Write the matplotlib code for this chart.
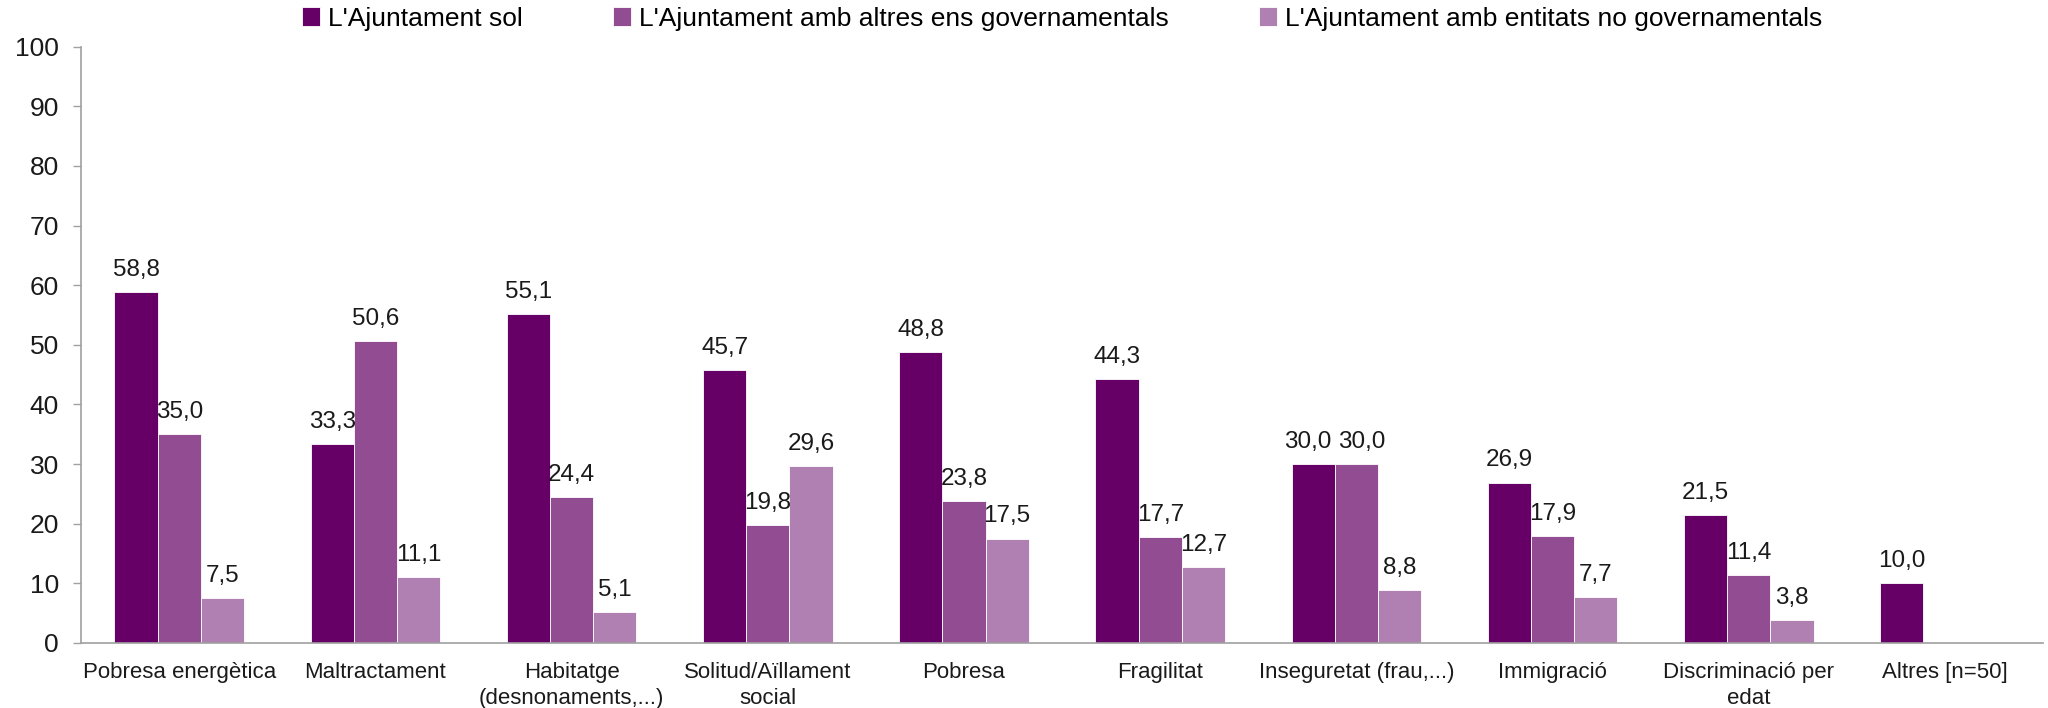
"""Grouped bar chart: qui actua davant cada problemàtica social."""

import matplotlib

matplotlib.use("Agg")
import matplotlib.pyplot as plt
import numpy as np

CATEGORIES = [
    "Pobresa energètica",
    "Maltractament",
    "Habitatge\n(desnonaments,...)",
    "Solitud/Aïllament\nsocial",
    "Pobresa",
    "Fragilitat",
    "Inseguretat (frau,...)",
    "Immigració",
    "Discriminació per\nedat",
    "Altres [n=50]",
]
SERIES_NAMES = [
    "L'Ajuntament sol",
    "L'Ajuntament amb altres ens governamentals",
    "L'Ajuntament amb entitats no governamentals",
]
SOL = [58.8, 33.3, 55.1, 45.7, 48.8, 44.3, 30.0, 26.9, 21.5, 10.0]
ALTRES_ENS = [35.0, 50.6, 24.4, 19.8, 23.8, 17.7, 30.0, 17.9, 11.4, None]
ENTITATS = [7.5, 11.1, 5.1, 29.6, 17.5, 12.7, 8.8, 7.7, 3.8, None]
COLORS = ["#660066", "#924d92", "#b080b2"]

plt.rcParams["font.family"] = ["Liberation Sans", "DejaVu Sans"]

fig = plt.figure(figsize=(20.48, 7.08), dpi=100)
ax = fig.add_axes([0.0396, 0.092, 0.958, 0.842])

x = np.arange(len(CATEGORIES))
width = 0.22
offsets = [-width, 0, width]
all_vals = [SOL, ALTRES_ENS, ENTITATS]
for k, (name, vals, color, off) in enumerate(zip(SERIES_NAMES, all_vals, COLORS, offsets)):
    idx = [i for i, v in enumerate(vals) if v is not None]
    heights = [vals[i] for i in idx]
    bars = ax.bar(x[idx] + off, heights, width, color=color, label=name,
                  edgecolor="white", linewidth=0.6)
    for i, b, v in zip(idx, bars, heights):
        # nudge labels apart when neighbouring bars have (almost) equal height
        dx = 0
        if k > 0 and all_vals[k - 1][i] is not None and abs(all_vals[k - 1][i] - v) < 3:
            dx = 4
        if k < 2 and all_vals[k + 1][i] is not None and abs(all_vals[k + 1][i] - v) < 3:
            dx = -4
        ax.annotate(f"{v:.1f}".replace(".", ","),
                    (b.get_x() + b.get_width() / 2, v),
                    xytext=(dx, 8), textcoords="offset points",
                    ha="center", va="bottom", fontsize=17.5, color="#1a1a1a")

ax.set_xlim(-0.5, len(CATEGORIES) - 0.5)
ax.set_ylim(0, 100)
ax.set_yticks(range(0, 101, 10))
ax.set_xticks(x)
ax.set_xticklabels(CATEGORIES, fontsize=16, color="#1a1a1a", linespacing=1.3)
ax.tick_params(axis="x", length=0, pad=14)
ax.tick_params(axis="y", labelsize=19, colors="#1a1a1a", length=6,
               width=1, color="#a0a0a0", pad=10)
for s in ["top", "right"]:
    ax.spines[s].set_visible(False)
for s in ["left", "bottom"]:
    ax.spines[s].set_color("#a0a0a0")
    ax.spines[s].set_linewidth(1.2)

ax.legend(loc="lower center", bbox_to_anchor=(0.5, 1.0), ncol=3, frameon=False,
          fontsize=19, handlelength=0.7, handleheight=0.7, handletextpad=0.3,
          columnspacing=3.4, borderaxespad=0.2)

fig.savefig("out.png", dpi=100)
